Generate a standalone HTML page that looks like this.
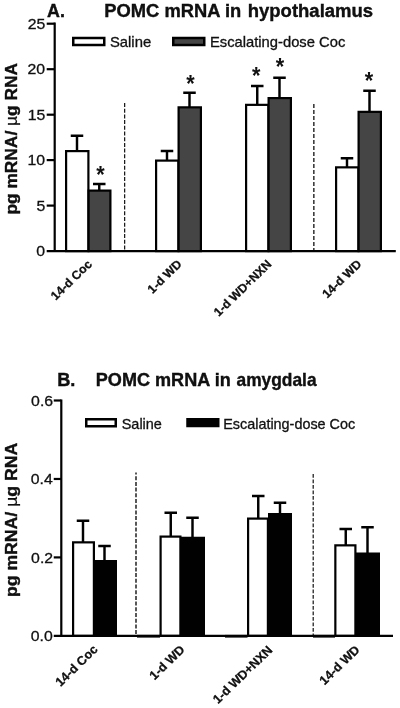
<!DOCTYPE html>
<html><head><meta charset="utf-8"><title>POMC mRNA</title>
<style>html,body{margin:0;padding:0;background:#fff;}svg{display:block;will-change:transform;opacity:0.999;}text{font-family:"Liberation Sans",sans-serif;fill:#111;}.b{font-weight:bold;}</style>
</head><body>
<svg width="400" height="708" viewBox="0 0 400 708">
<rect x="0" y="0" width="400" height="708" fill="#fff"/>
<g id="chartA">
<line x1="124.65" y1="103" x2="124.65" y2="251.1" stroke="#111" stroke-width="1.2" stroke-dasharray="4 1.7"/>
<line x1="313.85" y1="104" x2="313.85" y2="251.1" stroke="#111" stroke-width="1.3" stroke-dasharray="4 2"/>
<rect x="66.10" y="151.10" width="22.30" height="100.00" fill="#fff" stroke="#000" stroke-width="2.2"/>
<rect x="88.60" y="190.60" width="21.80" height="60.50" fill="#454545" stroke="#000" stroke-width="2.2"/>
<rect x="156.10" y="160.60" width="22.30" height="90.50" fill="#fff" stroke="#000" stroke-width="2.2"/>
<rect x="178.60" y="107.35" width="22.30" height="143.75" fill="#454545" stroke="#000" stroke-width="2.2"/>
<rect x="246.10" y="104.85" width="22.30" height="146.25" fill="#fff" stroke="#000" stroke-width="2.2"/>
<rect x="268.60" y="98.10" width="22.30" height="153.00" fill="#454545" stroke="#000" stroke-width="2.2"/>
<rect x="336.10" y="167.35" width="22.30" height="83.75" fill="#fff" stroke="#000" stroke-width="2.2"/>
<rect x="358.60" y="111.85" width="22.30" height="139.25" fill="#454545" stroke="#000" stroke-width="2.2"/>
<path d="M77.00 151.00V135.75M70.75 135.75H83.25" stroke="#000" stroke-width="2.45" fill="none"/>
<path d="M99.25 190.50V184.00M93.00 184.00H105.50" stroke="#000" stroke-width="2.45" fill="none"/>
<path d="M167.00 160.50V151.00M160.75 151.00H173.25" stroke="#000" stroke-width="2.45" fill="none"/>
<path d="M189.50 107.25V92.75M183.25 92.75H195.75" stroke="#000" stroke-width="2.45" fill="none"/>
<path d="M257.25 104.75V86.00M251.00 86.00H263.50" stroke="#000" stroke-width="2.45" fill="none"/>
<path d="M279.50 98.00V77.75M273.25 77.75H285.75" stroke="#000" stroke-width="2.45" fill="none"/>
<path d="M347.00 167.25V158.25M340.75 158.25H353.25" stroke="#000" stroke-width="2.45" fill="none"/>
<path d="M369.50 111.75V90.75M363.25 90.75H375.75" stroke="#000" stroke-width="2.45" fill="none"/>
<path d="M54.7 22.6V252.2M46.7 251.1H395.8" stroke="#000" stroke-width="2.2" fill="none"/>
<line x1="46.7" y1="23.7" x2="54.7" y2="23.7" stroke="#000" stroke-width="2.2"/>
<line x1="46.7" y1="69.2" x2="54.7" y2="69.2" stroke="#000" stroke-width="2.2"/>
<line x1="46.7" y1="114.7" x2="54.7" y2="114.7" stroke="#000" stroke-width="2.2"/>
<line x1="46.7" y1="160.1" x2="54.7" y2="160.1" stroke="#000" stroke-width="2.2"/>
<line x1="46.7" y1="205.6" x2="54.7" y2="205.6" stroke="#000" stroke-width="2.2"/>
<text transform="translate(27.78 28.90) scale(1.0350 1.0000)" font-size="15.3" stroke="#111" stroke-width="0.3">25</text>
<text transform="translate(27.52 74.40) scale(1.0350 1.0000)" font-size="15.3" stroke="#111" stroke-width="0.3">20</text>
<text transform="translate(27.78 119.90) scale(1.0350 1.0000)" font-size="15.3" stroke="#111" stroke-width="0.3">15</text>
<text transform="translate(27.52 165.30) scale(1.0350 1.0000)" font-size="15.3" stroke="#111" stroke-width="0.3">10</text>
<text transform="translate(36.58 210.80) scale(1.0350 1.0000)" font-size="15.3" stroke="#111" stroke-width="0.3">5</text>
<text transform="translate(36.32 256.30) scale(1.0350 1.0000)" font-size="15.3" stroke="#111" stroke-width="0.3">0</text>
<text transform="translate(96.34 182.50) scale(1.0323 1.1000)" font-size="21" class="b">*</text>
<text transform="translate(186.14 92.10) scale(1.0323 1.1000)" font-size="21" class="b">*</text>
<text transform="translate(251.99 84.40) scale(1.0323 1.1000)" font-size="21" class="b">*</text>
<text transform="translate(275.74 74.80) scale(1.0323 1.1000)" font-size="21" class="b">*</text>
<text transform="translate(364.64 88.60) scale(1.0323 1.1000)" font-size="21" class="b">*</text>
<rect x="73.25" y="38" width="31" height="7" fill="#fff" stroke="#000" stroke-width="2.5"/>
<rect x="173.25" y="38" width="31" height="7" fill="#454545" stroke="#000" stroke-width="2.5"/>
<text transform="translate(109.95 46.80) scale(1.0600 1.0000)" font-size="14" stroke="#111" stroke-width="0.3">Saline</text>
<text transform="translate(209.93 46.80) scale(1.0552 1.0000)" font-size="14" stroke="#111" stroke-width="0.3">Escalating-dose Coc</text>
<text transform="translate(47.12 17.20) scale(0.9697 1.0000)" font-size="18.4" class="b" fill="#000" stroke="#000" stroke-width="0.35">A.</text>
<text transform="translate(104.35 17.20) scale(0.9974 1.0000)" font-size="18.4" class="b" fill="#000" stroke="#000" stroke-width="0.35">POMC mRNA in</text>
<text transform="translate(247.74 17.20) scale(1.0053 1.0000)" font-size="18.4" class="b" fill="#000" stroke="#000" stroke-width="0.35">hypothalamus</text>
<text transform="translate(16.70 214.57) rotate(-90) scale(1.0714 1.0000)" font-size="16.2" class="b" fill="#000" stroke="#000" stroke-width="0.35">pg mRNA/ <tspan font-weight="normal" stroke-width="0.2">µ</tspan>g RNA</text>
<text transform="translate(92.80 264.90) scale(1.015 0.985) rotate(-45)" font-size="12.2" text-anchor="end" class="b" fill="#000" stroke="#000" stroke-width="0.25">14-d Coc</text>
<text transform="translate(182.70 264.90) scale(1.015 0.985) rotate(-45)" font-size="12.2" text-anchor="end" class="b" fill="#000" stroke="#000" stroke-width="0.25">1-d WD</text>
<text transform="translate(272.40 264.90) scale(1.015 0.985) rotate(-45)" font-size="12.2" text-anchor="end" class="b" fill="#000" stroke="#000" stroke-width="0.25">1-d WD+NXN</text>
<text transform="translate(362.20 264.90) scale(1.015 0.985) rotate(-45)" font-size="12.2" text-anchor="end" class="b" fill="#000" stroke="#000" stroke-width="0.25">14-d WD</text>
</g>
<g id="chartB">
<line x1="136.0" y1="472.5" x2="136.0" y2="635.9" stroke="#111" stroke-width="1.4" stroke-dasharray="4 1.7" stroke-dashoffset="2"/>
<line x1="313.2" y1="474" x2="313.2" y2="635.9" stroke="#111" stroke-width="1.2" stroke-dasharray="3.7 1.8" stroke-dashoffset="0"/>
<rect x="73.10" y="542.35" width="20.80" height="93.55" fill="#fff" stroke="#000" stroke-width="2.2"/>
<rect x="95.60" y="561.10" width="20.30" height="74.80" fill="#000" stroke="#000" stroke-width="2.2"/>
<rect x="160.60" y="536.60" width="19.80" height="99.30" fill="#fff" stroke="#000" stroke-width="2.2"/>
<rect x="181.85" y="537.85" width="22.05" height="98.05" fill="#000" stroke="#000" stroke-width="2.2"/>
<rect x="248.10" y="518.60" width="19.80" height="117.30" fill="#fff" stroke="#000" stroke-width="2.2"/>
<rect x="269.10" y="514.10" width="21.80" height="121.80" fill="#000" stroke="#000" stroke-width="2.2"/>
<rect x="335.35" y="545.35" width="20.05" height="90.55" fill="#fff" stroke="#000" stroke-width="2.2"/>
<rect x="356.60" y="553.60" width="22.30" height="82.30" fill="#000" stroke="#000" stroke-width="2.2"/>
<path d="M83.00 542.25V520.75M76.75 520.75H89.25" stroke="#000" stroke-width="2.45" fill="none"/>
<path d="M104.50 561.00V546.00M98.25 546.00H110.75" stroke="#000" stroke-width="2.45" fill="none"/>
<path d="M170.75 536.50V512.75M164.50 512.75H177.00" stroke="#000" stroke-width="2.45" fill="none"/>
<path d="M192.50 537.75V517.75M186.25 517.75H198.75" stroke="#000" stroke-width="2.45" fill="none"/>
<path d="M258.25 518.50V496.00M252.00 496.00H264.50" stroke="#000" stroke-width="2.45" fill="none"/>
<path d="M280.00 514.00V502.75M273.75 502.75H286.25" stroke="#000" stroke-width="2.45" fill="none"/>
<path d="M345.75 545.25V529.00M339.50 529.00H352.00" stroke="#000" stroke-width="2.45" fill="none"/>
<path d="M367.50 553.50V527.25M361.25 527.25H373.75" stroke="#000" stroke-width="2.45" fill="none"/>
<rect x="137" y="634.9" width="23" height="2.7" fill="#000"/>
<rect x="225" y="634.9" width="22.5" height="2.7" fill="#000"/>
<rect x="313" y="634.9" width="22" height="2.7" fill="#000"/>
<path d="M61.3 399.4V637.0M53.75 635.9H393" stroke="#000" stroke-width="2.2" fill="none"/>
<line x1="53.75" y1="400.5" x2="61.3" y2="400.5" stroke="#000" stroke-width="2.2"/>
<line x1="53.75" y1="478.97" x2="61.3" y2="478.97" stroke="#000" stroke-width="2.2"/>
<line x1="53.75" y1="557.4" x2="61.3" y2="557.4" stroke="#000" stroke-width="2.2"/>
<text transform="translate(31.08 405.70) scale(1.0350 1.0000)" font-size="15.3" stroke="#111" stroke-width="0.3">0.6</text>
<text transform="translate(30.82 484.17) scale(1.0350 1.0000)" font-size="15.3" stroke="#111" stroke-width="0.3">0.4</text>
<text transform="translate(31.08 562.60) scale(1.0350 1.0000)" font-size="15.3" stroke="#111" stroke-width="0.3">0.2</text>
<text transform="translate(30.82 641.10) scale(1.0350 1.0000)" font-size="15.3" stroke="#111" stroke-width="0.3">0.0</text>
<rect x="86.25" y="419.25" width="29.5" height="7" fill="#fff" stroke="#000" stroke-width="2.5"/>
<rect x="186.25" y="418" width="33.25" height="9.25" fill="#000"/>
<text transform="translate(121.72 428.70) scale(1.0333 1.0000)" font-size="14" stroke="#111" stroke-width="0.3">Saline</text>
<text transform="translate(223.21 428.70) scale(1.0296 1.0000)" font-size="14" stroke="#111" stroke-width="0.3">Escalating-dose Coc</text>
<text transform="translate(57.16 385.70) scale(0.9905 1.0000)" font-size="18.4" class="b" fill="#000" stroke="#000" stroke-width="0.35">B.</text>
<text transform="translate(95.77 385.70) scale(0.9833 1.0000)" font-size="18.4" class="b" fill="#000" stroke="#000" stroke-width="0.35">POMC mRNA in</text>
<text transform="translate(236.53 385.70) scale(0.9438 1.0000)" font-size="18.4" class="b" fill="#000" stroke="#000" stroke-width="0.35">amygdala</text>
<text transform="translate(16.70 597.09) rotate(-90) scale(1.0914 1.0000)" font-size="16.2" class="b" fill="#000" stroke="#000" stroke-width="0.35">pg mRNA/ <tspan font-weight="normal" stroke-width="0.2">µ</tspan>g RNA</text>
<text transform="translate(98.40 650.20) scale(1.015 0.985) rotate(-45)" font-size="12.5" text-anchor="end" class="b" fill="#000" stroke="#000" stroke-width="0.25">14-d Coc</text>
<text transform="translate(185.40 650.40) scale(1.015 0.985) rotate(-45)" font-size="12.5" text-anchor="end" class="b" fill="#000" stroke="#000" stroke-width="0.25">1-d WD</text>
<text transform="translate(273.20 650.90) scale(1.015 0.985) rotate(-45)" font-size="12.5" text-anchor="end" class="b" fill="#000" stroke="#000" stroke-width="0.25">1-d WD+NXN</text>
<text transform="translate(360.40 650.60) scale(1.015 0.985) rotate(-45)" font-size="12.5" text-anchor="end" class="b" fill="#000" stroke="#000" stroke-width="0.25">14-d WD</text>
</g>
</svg></body></html>
